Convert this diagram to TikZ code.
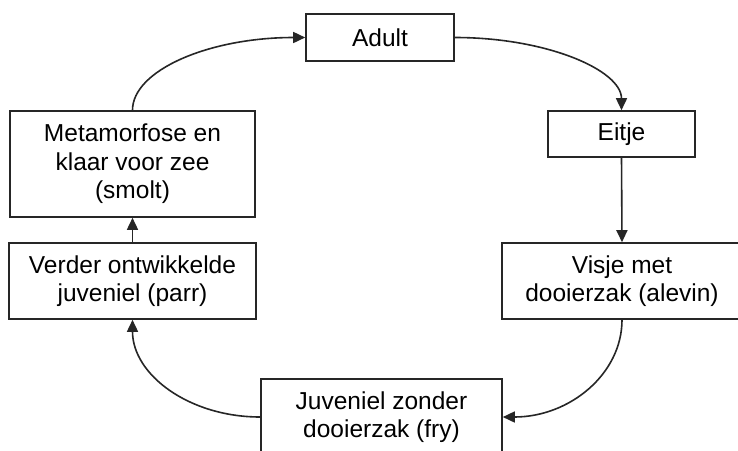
\documentclass[tikz,border=0pt]{standalone}
\usepackage{fontspec}
\setmainfont{Liberation Sans}
\usetikzlibrary{arrows.meta}
\tikzset{
  stage/.style={draw=black!85, line width=1.6pt, fill=white, inner sep=0pt, align=center,
    font=\fontsize{24.5}{28.5}\selectfont, text=black},
  flow/.style={draw=black!85, line width=1.6pt, -{Triangle[length=12pt,width=11pt]}}
}
\begin{document}
\begin{tikzpicture}[x=1pt,y=-1pt]
\clip (0,0) rectangle (738,450);
\fill[white] (0,0) rectangle (738,450);
\node[stage, minimum width=148pt, minimum height=47pt] (adult) at (380,37.5) {Adult};
\node[stage, minimum width=147pt, minimum height=46pt] (eitje) at (621.5,134) {Eitje};
\node[stage, minimum width=240pt, minimum height=76pt] (visje) at (622,281) {Visje met\\dooierzak (alevin)};
\node[stage, minimum width=241pt, minimum height=76pt] (juv) at (381.5,417) {Juveniel zonder\\dooierzak (fry)};
\node[stage, minimum width=247pt, minimum height=76pt] (parr) at (132.5,281) {Verder ontwikkelde\\juveniel (parr)};
\node[stage, minimum width=245pt, minimum height=106pt] (smolt) at (132.5,164) {Metamorfose en\\klaar voor zee\\(smolt)};
\draw[flow] (smolt.north) .. controls +(0,-40) and +(-96,0) .. (adult.west);
\draw[flow] (adult.east) .. controls +(92,0) and +(0,-40) .. (eitje.north);
\draw[flow] (eitje.south) -- (visje.north);
\draw[flow] (visje.south) .. controls +(0,54) and +(67,0) .. (juv.east);
\draw[flow] (juv.west) .. controls +(-71,0) and +(0,55) .. (parr.south);
\draw[flow] (parr.north) -- (smolt.south);
\end{tikzpicture}
\end{document}
